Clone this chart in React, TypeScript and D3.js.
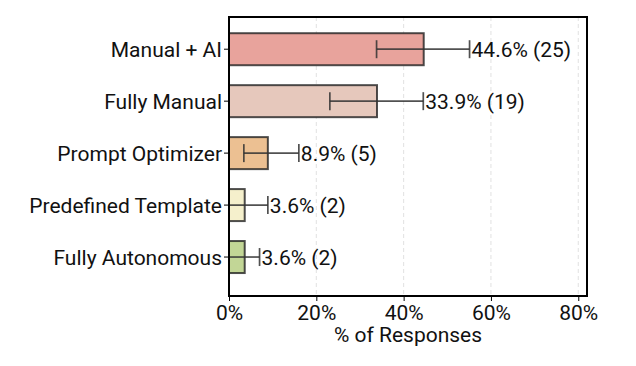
import React, { useRef, useEffect } from "react"
import * as d3 from "d3"

const categories = ["Manual + AI", "Fully Manual", "Prompt Optimizer", "Predefined Template", "Fully Autonomous"]
const percents = [44.6, 33.9, 8.9, 3.6, 3.6]
const counts = [25, 19, 5, 2, 2]
const errLow = [33.8, 23.1, 3.4, 0, 0]
const errHigh = [55.1, 44.5, 16.0, 8.9, 7.0]
const colors = ["#e8a39c", "#e6c8bc", "#ecc092", "#f5f0cc", "#c2d696"]
const xTicks = [0, 20, 40, 60, 80]

const App = () => {
  const svgRef = useRef(null)

  useEffect(() => {
    const svgWidth = 636
    const svgHeight = 366
    const margin = { top: 17, right: 49, bottom: 70, left: 229 }
    const width = svgWidth - margin.left - margin.right
    const height = svgHeight - margin.top - margin.bottom
    const font = "Roboto, 'DejaVu Sans', sans-serif"
    const fs = 21

    const root = d3.select(svgRef.current)
    root.selectAll("*").remove()
    const svg = root.append("g").attr("transform", `translate(${margin.left},${margin.top})`)

    const x = d3.scaleLinear().domain([0, 82]).range([0, width])
    // category index -> vertical position (bar centres)
    const y = d3.scaleLinear().domain([-0.62, 4.75]).range([0, height])
    const barH = 32

    // grid
    svg
      .selectAll(".grid")
      .data(xTicks)
      .enter()
      .append("line")
      .attr("x1", (d) => x(d))
      .attr("x2", (d) => x(d))
      .attr("y1", 0)
      .attr("y2", height)
      .attr("stroke", "#d9d9d9")
      .attr("stroke-width", 0.8)
      .attr("stroke-dasharray", "4,3")

    // bars
    svg
      .selectAll(".bar")
      .data(categories)
      .enter()
      .append("rect")
      .attr("x", x(0))
      .attr("y", (d, i) => y(i) - barH / 2)
      .attr("width", (d, i) => x(percents[i]) - x(0))
      .attr("height", barH)
      .attr("fill", (d, i) => colors[i])
      .attr("stroke", "#222")
      .attr("stroke-opacity", 0.8)
      .attr("stroke-width", 2)

    // error bars
    const err = svg.selectAll(".err").data(categories).enter().append("g").attr("stroke", "#333").attr("stroke-opacity", 0.85).attr("stroke-width", 1.7)
    err
      .append("line")
      .attr("x1", (d, i) => x(errLow[i]))
      .attr("x2", (d, i) => x(errHigh[i]))
      .attr("y1", (d, i) => y(i))
      .attr("y2", (d, i) => y(i))
    err
      .append("line")
      .attr("x1", (d, i) => x(errLow[i]))
      .attr("x2", (d, i) => x(errLow[i]))
      .attr("y1", (d, i) => y(i) - 9)
      .attr("y2", (d, i) => y(i) + 9)
    err
      .append("line")
      .attr("x1", (d, i) => x(errHigh[i]))
      .attr("x2", (d, i) => x(errHigh[i]))
      .attr("y1", (d, i) => y(i) - 9)
      .attr("y2", (d, i) => y(i) + 9)

    // value labels
    svg
      .selectAll(".val")
      .data(categories)
      .enter()
      .append("text")
      .attr("x", (d, i) => x(errHigh[i]) + 2)
      .attr("y", (d, i) => y(i))
      .attr("dy", "0.36em")
      .attr("font-family", font)
      .attr("font-size", fs)
      .attr("fill", "#111")
      .text((d, i) => `${percents[i].toFixed(1)}% (${counts[i]})`)

    // y axis
    svg
      .selectAll(".ytick")
      .data(categories)
      .enter()
      .append("line")
      .attr("x1", -5)
      .attr("x2", 0)
      .attr("y1", (d, i) => y(i))
      .attr("y2", (d, i) => y(i))
      .attr("stroke", "#000")
      .attr("stroke-width", 1)
    svg
      .selectAll(".ylab")
      .data(categories)
      .enter()
      .append("text")
      .attr("x", -7)
      .attr("y", (d, i) => y(i))
      .attr("dy", "0.36em")
      .attr("text-anchor", "end")
      .attr("font-family", font)
      .attr("font-size", fs)
      .attr("fill", "#111")
      .text((d) => d)

    // x axis
    const xAxis = svg
      .append("g")
      .attr("transform", `translate(0,${height})`)
      .call(d3.axisBottom(x).tickValues(xTicks).tickFormat((d) => `${d}%`).tickSize(5).tickPadding(4))
    xAxis.select(".domain").remove()
    xAxis.selectAll("line").attr("stroke", "#000")
    xAxis.selectAll("text").attr("font-family", font).attr("font-size", fs).attr("fill", "#111")

    // frame
    svg
      .append("rect")
      .attr("x", 0)
      .attr("y", 0)
      .attr("width", width)
      .attr("height", height)
      .attr("fill", "none")
      .attr("stroke", "#000")
      .attr("stroke-width", 2)

    svg
      .append("text")
      .attr("x", width / 2)
      .attr("y", height + 46)
      .attr("text-anchor", "middle")
      .attr("font-family", font)
      .attr("font-size", fs)
      .attr("fill", "#111")
      .text("% of Responses")
  }, [])

  return (
    <div style={{ position: "absolute", left: 0, top: 0 }}>
      <svg ref={svgRef} width={636} height={366} style={{ display: "block", background: "#fff" }}></svg>
    </div>
  )
}

export default App
